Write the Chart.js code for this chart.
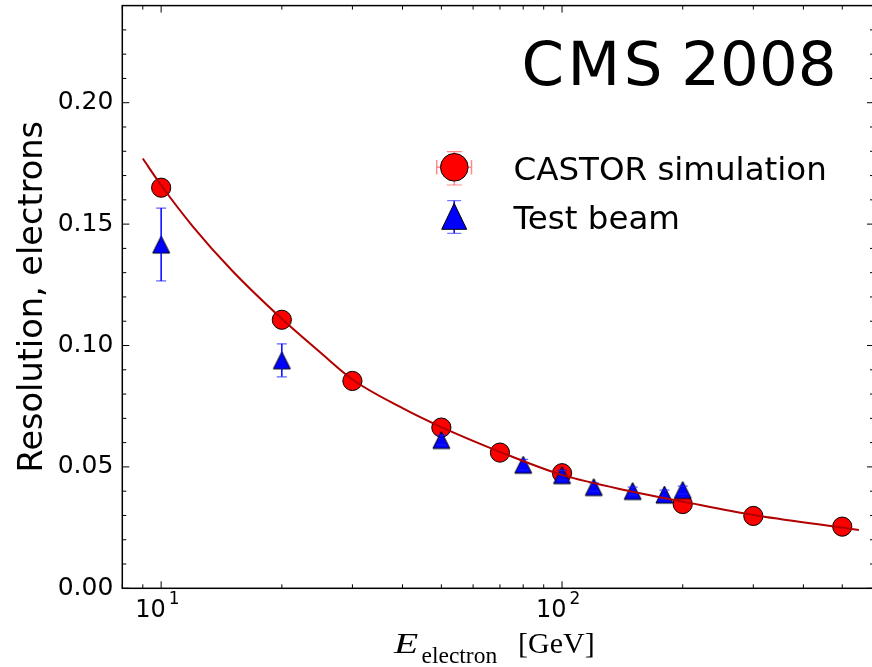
<!DOCTYPE html>
<html>
<head>
<meta charset="utf-8">
<title>CASTOR electron resolution</title>
<script src="https://cdn.jsdelivr.net/npm/chart.js@4.4.1/dist/chart.umd.min.js"></script>
<style>
  html, body { margin: 0; padding: 0; background: #fff; overflow: hidden; }
  #wrap { width: 872px; height: 667px; overflow: hidden; position: relative; }
  #resolution { display: block; width: 880px; height: 667px; }
</style>
</head>
<body>
<div id="wrap"><canvas id="resolution" width="880" height="667"></canvas></div>
<script>
// CASTOR simulation points (energy in GeV, relative resolution)
const simEnergy = [10, 20, 30, 50, 70, 100, 200, 300, 500];
const simResolution = [0.165, 0.1106, 0.0854, 0.0662, 0.0559, 0.0474, 0.0347, 0.0298, 0.0254];

// test beam measurements with their errors
const beamEnergy = [10, 20, 50, 80, 100, 120, 150, 180, 200];
const beamResolution = [0.1416, 0.0939, 0.0611, 0.0509, 0.0466, 0.0417, 0.0401, 0.0386, 0.0405];
const beamError = [0.015, 0.0068, 0.002, 0.0022, 0.002, 0.0017, 0.0016, 0.0018, 0.0016];

// fitted resolution curve
const fitEnergy = [9, 10, 12, 15, 20, 25, 30, 40, 50, 70, 100, 150, 200, 300, 500, 550];
const fitResolution = [0.177, 0.166, 0.149, 0.131, 0.111, 0.097, 0.086, 0.0742, 0.0664, 0.0562, 0.0467, 0.0398, 0.0357, 0.0302, 0.025, 0.024];

// axis ticks
const yTickValues = [0, 0.05, 0.1, 0.15, 0.2];
const yMinorTicks = [0.01, 0.02, 0.03, 0.04, 0.06, 0.07, 0.08, 0.09, 0.11, 0.12, 0.13, 0.14,
  0.16, 0.17, 0.18, 0.19, 0.21, 0.22, 0.23];
const xTickValues = [10, 100];
const xMinorTicks = [8, 9, 20, 30, 40, 50, 60, 70, 80, 90, 200, 300, 400, 500, 600];

const legendLabels = ["CASTOR simulation", "Test beam"];
const yLabel = "Resolution, electrons";

const RED = "#ff0000";
const BLUE = "#0000ff";
const FIT = "#b00000";

function toPoints(xs, ys) {
  return xs.map((x, i) => ({ x: x, y: ys[i] }));
}

function triangle(ctx, cx, cy, w, h) {
  ctx.beginPath();
  ctx.moveTo(cx, cy - h / 2);
  ctx.lineTo(cx - w / 2, cy + h / 2);
  ctx.lineTo(cx + w / 2, cy + h / 2);
  ctx.closePath();
  ctx.fillStyle = BLUE;
  ctx.fill();
  ctx.lineWidth = 1;
  ctx.strokeStyle = "#000";
  ctx.stroke();
}

// marker centred on its bounding box, like the '^' marker
function makeTriangleMarker(size) {
  const c = document.createElement("canvas");
  c.width = size + 4;
  c.height = size + 4;
  triangle(c.getContext("2d"), c.width / 2, c.height / 2, size, size);
  return c;
}

function errorBar(ctx, x, yTop, yBottom, capHalf, color, capColor) {
  ctx.strokeStyle = color;
  ctx.lineWidth = 1.5;
  ctx.beginPath();
  ctx.moveTo(x, yTop);
  ctx.lineTo(x, yBottom);
  ctx.stroke();
  ctx.strokeStyle = capColor;
  ctx.lineWidth = 1.2;
  ctx.beginPath();
  ctx.moveTo(x - capHalf, yTop);
  ctx.lineTo(x + capHalf, yTop);
  ctx.moveTo(x - capHalf, yBottom);
  ctx.lineTo(x + capHalf, yBottom);
  ctx.stroke();
}

// drop the extra room chart.js keeps for edge labels
function pinScale(scale) {
  scale.paddingTop = 0;
  scale.paddingBottom = 0;
  scale.paddingLeft = 0;
  scale.paddingRight = 0;
}

const decorations = {
  id: "decorations",
  beforeDraw(chart) {
    const ctx = chart.ctx;
    ctx.save();
    ctx.fillStyle = "#fff";
    ctx.fillRect(0, 0, chart.width, chart.height);
    ctx.restore();
  },
  afterDatasetDraw(chart, args) {
    if (args.index !== 1) return;
    const ctx = chart.ctx;
    const xs = chart.scales.x;
    const ys = chart.scales.y;
    ctx.save();
    beamEnergy.forEach((e, i) => {
      const px = xs.getPixelForValue(e);
      const top = ys.getPixelForValue(beamResolution[i] + beamError[i]);
      const bottom = ys.getPixelForValue(beamResolution[i] - beamError[i]);
      errorBar(ctx, px, top, bottom, 5, BLUE, "rgba(30,30,255,0.7)");
    });
    ctx.restore();
  },
  afterDraw(chart) {
    const ctx = chart.ctx;
    const a = chart.chartArea;
    const xs = chart.scales.x;
    const ys = chart.scales.y;
    ctx.save();

    // frame and inward ticks on all four sides
    ctx.strokeStyle = "#000";
    ctx.lineWidth = 1.5;
    ctx.strokeRect(a.left, a.top, a.right - a.left, a.bottom - a.top);
    ctx.lineWidth = 1;
    ctx.beginPath();
    const yTick = (v, len) => {
      const py = ys.getPixelForValue(v);
      ctx.moveTo(a.left, py); ctx.lineTo(a.left + len, py);
      ctx.moveTo(a.right, py); ctx.lineTo(a.right - len, py);
    };
    const xTick = (v, len) => {
      const px = xs.getPixelForValue(v);
      ctx.moveTo(px, a.bottom); ctx.lineTo(px, a.bottom - len);
      ctx.moveTo(px, a.top); ctx.lineTo(px, a.top + len);
    };
    yTickValues.forEach(v => yTick(v, 7));
    yMinorTicks.forEach(v => yTick(v, 4));
    xTickValues.forEach(v => xTick(v, 7));
    xMinorTicks.forEach(v => xTick(v, 4));
    ctx.stroke();

    // x tick labels as powers of ten
    ctx.fillStyle = "#000";
    ctx.textBaseline = "alphabetic";
    ctx.textAlign = "left";
    xTickValues.forEach(v => {
      const px = xs.getPixelForValue(v);
      ctx.font = "24px 'DejaVu Sans'";
      const x0 = px - 26;
      ctx.fillText("10", x0, 616.7);
      const w = ctx.measureText("10").width;
      ctx.font = "17px 'DejaVu Sans'";
      ctx.fillText(String(Math.round(Math.log10(v))), x0 + w + 3, 604.3);
    });

    // x axis label: E with a subscript, then the unit
    ctx.save();
    ctx.translate(394, 653.3);
    ctx.scale(1.32, 1);
    ctx.font = "italic 30px 'Liberation Serif'";
    ctx.fillText("E", 0, 0);
    ctx.restore();
    ctx.font = "23.5px 'Liberation Serif'";
    ctx.fillText("electron", 421.5, 662.8);
    ctx.font = "30px 'Liberation Serif'";
    ctx.fillText("[GeV]", 518, 653.3);

    // y axis label
    ctx.save();
    ctx.translate(41.7, 296.7);
    ctx.rotate(-Math.PI / 2);
    ctx.textAlign = "center";
    ctx.font = "33.6px 'DejaVu Sans'";
    ctx.fillText(yLabel, 0, 0);
    ctx.restore();

    // title, with the experiment name slightly spaced out
    ctx.font = "61px 'DejaVu Sans'";
    ctx.textAlign = "right";
    ctx.fillText("2008", 836.5, 85);
    ctx.textAlign = "left";
    ctx.letterSpacing = "3.5px";
    ctx.fillText("CMS", 521.5, 85);
    ctx.letterSpacing = "0px";

    // legend
    errorBar(ctx, 454.3, 151.7, 185, 7.5, "rgba(255,60,60,0.6)", "rgba(255,60,60,0.6)");
    ctx.strokeStyle = "rgba(255,60,60,0.6)";
    ctx.lineWidth = 1.5;
    ctx.beginPath();
    ctx.moveTo(436.7, 167.3); ctx.lineTo(471.5, 167.3);
    ctx.moveTo(436.7, 160); ctx.lineTo(436.7, 174.6);
    ctx.moveTo(471.5, 160); ctx.lineTo(471.5, 174.6);
    ctx.stroke();
    ctx.beginPath();
    ctx.arc(454.3, 167.3, 13.8, 0, Math.PI * 2);
    ctx.fillStyle = RED;
    ctx.fill();
    ctx.strokeStyle = "#000";
    ctx.lineWidth = 1;
    ctx.stroke();

    errorBar(ctx, 454.2, 200.7, 233.3, 7, BLUE, "rgba(30,30,255,0.6)");
    triangle(ctx, 454.2, 216.3, 25, 26);

    ctx.fillStyle = "#000";
    ctx.textAlign = "left";
    ctx.font = "32.5px 'DejaVu Sans'";
    ctx.fillText(legendLabels[0], 513.5, 180);
    ctx.fillText(legendLabels[1], 513.5, 229);
    ctx.restore();
  }
};

new Chart(document.getElementById("resolution"), {
  type: "scatter",
  data: {
    datasets: [
      {
        label: "fit",
        data: toPoints(fitEnergy, fitResolution),
        showLine: true,
        borderColor: FIT,
        borderWidth: 2,
        pointRadius: 0,
        cubicInterpolationMode: "monotone",
        order: 0
      },
      {
        label: legendLabels[1],
        data: toPoints(beamEnergy, beamResolution),
        pointStyle: makeTriangleMarker(17),
        pointRadius: 9,
        order: 1
      },
      {
        label: legendLabels[0],
        data: toPoints(simEnergy, simResolution),
        pointStyle: "circle",
        pointRadius: 9.6,
        pointBackgroundColor: RED,
        pointBorderColor: "#000",
        pointBorderWidth: 1,
        order: 2
      }
    ]
  },
  options: {
    responsive: false,
    animation: false,
    events: [],
    devicePixelRatio: 1,
    layout: {
      autoPadding: false,
      padding: { left: 0, right: 6, top: 5.6, bottom: 0 }
    },
    plugins: {
      legend: { display: false },
      tooltip: { enabled: false }
    },
    scales: {
      x: {
        type: "logarithmic",
        min: 8,
        max: 600,
        grid: { display: false, drawTicks: false },
        border: { display: false },
        ticks: { display: false },
        afterFit(scale) {
          pinScale(scale);
          scale.height = 78.7;
        }
      },
      y: {
        min: 0,
        max: 0.24,
        grid: { display: false, drawTicks: false },
        border: { display: false },
        afterBuildTicks(scale) {
          scale.ticks = yTickValues.map(v => ({ value: v }));
        },
        ticks: {
          color: "#000",
          padding: 9,
          font: { family: "'DejaVu Sans'", size: 25 },
          callback: v => v.toFixed(2)
        },
        afterFit(scale) {
          pinScale(scale);
          scale.width = 122.3;
        }
      }
    }
  },
  plugins: [decorations]
});
</script>
</body>
</html>
